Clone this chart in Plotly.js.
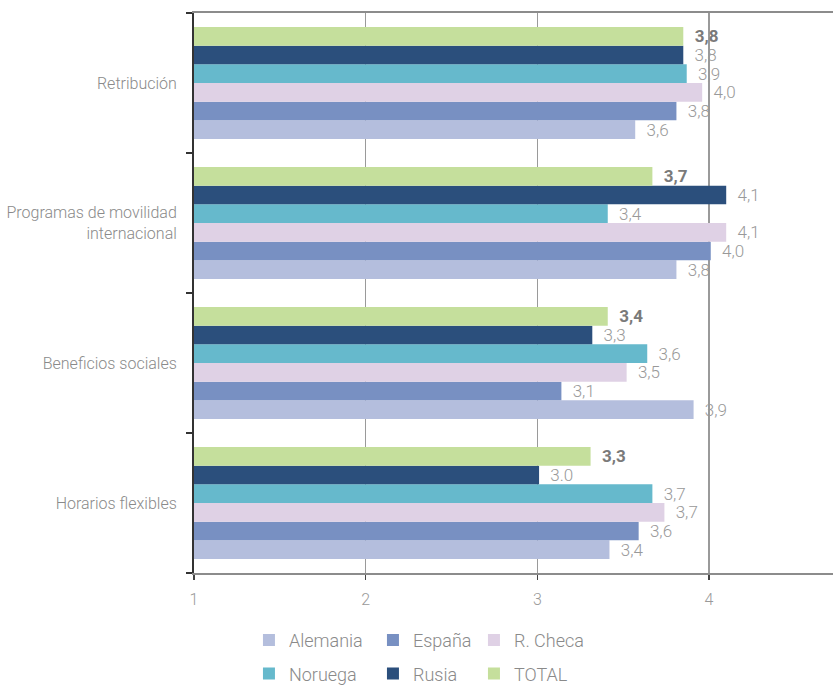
<!DOCTYPE html>
<html>
<head>
<meta charset="utf-8">
<script src="https://cdn.plot.ly/plotly-3.0.1.min.js"></script>
<style>html,body{margin:0;padding:0;background:#fff;}#chart{width:833px;height:686px;}</style>
</head>
<body>
<div id="chart"></div>
<script>
// Categories (top to bottom as shown)
const categories = ["Retribución", "Programas de movilidad<br>internacional", "Beneficios sociales", "Horarios flexibles"];

// Series values
const alemania = [3.57, 3.81, 3.91, 3.42];
const espana   = [3.81, 4.01, 3.14, 3.59];
const rcheca   = [3.96, 4.10, 3.52, 3.74];
const noruega  = [3.87, 3.41, 3.64, 3.67];
const rusia    = [3.85, 4.10, 3.32, 3.01];
const total    = [3.85, 3.67, 3.41, 3.31];

// Printed labels
const alemaniaLabels = ["3,6", "3,8", "3,9", "3,4"];
const espanaLabels   = ["3,8", "4,0", "3,1", "3,6"];
const rchecaLabels   = ["4,0", "4,1", "3,5", "3,7"];
const noruegaLabels  = ["3,9", "3,4", "3,6", "3,7"];
const rusiaLabels    = ["3,8", "4,1", "3,3", "3.0"];
const totalLabels    = ["3,8", "3,7", "3,4", "3,3"];

const xTicks = [1, 2, 3, 4];

const seriesNames = ["Alemania", "España", "R. Checa", "Noruega", "Rusia", "TOTAL"];
const seriesValues = [alemania, espana, rcheca, noruega, rusia, total];
const seriesLabels = [alemaniaLabels, espanaLabels, rchecaLabels, noruegaLabels, rusiaLabels, totalLabels];
const seriesColors = ["#b4bedd", "#7890c2", "#dfd1e5", "#66b9cc", "#2b4f7c", "#c5df9c"];
const legendWidths = [79, 56, 70, 79, 56, 70];

const narrow = 'Roboto, "Liberation Sans", sans-serif';

const traces = seriesNames.map((name, i) => ({
  type: 'bar',
  orientation: 'h',
  name: name,
  y: categories,
  x: seriesValues[i],
  text: seriesLabels[i],
  texttemplate: '  %{text}',
  textposition: 'outside',
  constraintext: 'none',
  cliponaxis: false,
  textfont: {
    family: narrow,
    size: 17,
    color: i === 5 ? '#7a7a7a' : '#999999',
    weight: i === 5 ? 700 : 300
  },
  marker: { color: seriesColors[i], line: { width: 0 } },
  legend: i < 3 ? 'legend' : 'legend2',
  legendwidth: legendWidths[i],
  hoverinfo: 'skip'
}));

const legendCommon = {
  orientation: 'h',
  xanchor: 'left',
  yanchor: 'middle',
  font: { family: narrow, size: 18, color: '#8a8a8a', weight: 300 },
  bgcolor: 'rgba(0,0,0,0)',
  traceorder: 'normal'
};

const layout = {
  width: 833,
  height: 686,
  margin: { l: 194, r: 0, t: 13, b: 113, autoexpand: false },
  paper_bgcolor: '#ffffff',
  plot_bgcolor: '#ffffff',
  barmode: 'group',
  bargap: 0.2,
  bargroupgap: 0,
  showlegend: true,
  xaxis: {
    range: [1, 4.722],
    tickvals: xTicks,
    ticktext: xTicks.map(String),
    showgrid: true,
    gridcolor: '#9a9a9a',
    gridwidth: 1.5,
    zeroline: false,
    showline: true,
    linecolor: '#8c8c8c',
    linewidth: 2,
    mirror: true,
    ticks: 'outside',
    ticklen: 5,
    tickcolor: '#444',
    tickwidth: 1.5,
    ticklabelstandoff: 6,
    tickfont: { family: narrow, size: 16, color: '#9a9a9a', weight: 300 },
    fixedrange: true
  },
  yaxis: {
    type: 'category',
    categoryorder: 'array',
    categoryarray: categories.slice().reverse(),
    tickson: 'boundaries',
    ticks: 'outside',
    ticklen: 6,
    tickcolor: '#333',
    tickwidth: 1.5,
    showline: true,
    linecolor: '#333',
    linewidth: 2,
    showgrid: false,
    zeroline: false,
    ticklabelstandoff: 12,
    tickfont: { family: narrow, size: 16, color: '#8a8a8a', weight: 300 },
    fixedrange: true
  },
  legend: Object.assign({}, legendCommon, { x: 0.086, y: -0.12 }),
  legend2: Object.assign({}, legendCommon, { x: 0.086, y: -0.18 })
};

Plotly.newPlot('chart', traces, layout, { displayModeBar: false, staticPlot: true });
</script>
</body>
</html>
